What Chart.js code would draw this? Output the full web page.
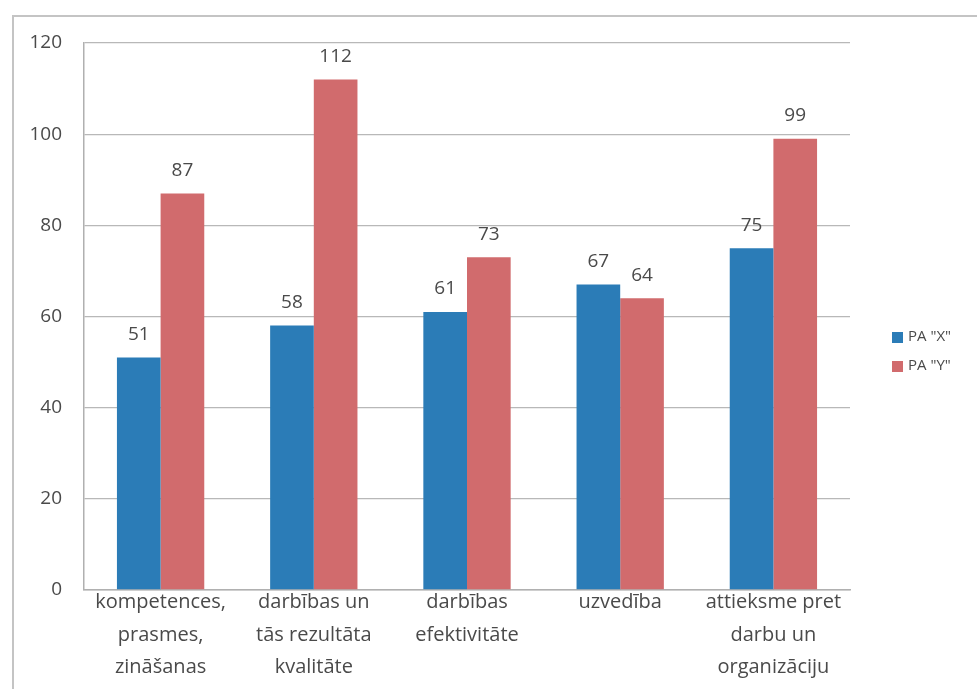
<!DOCTYPE html>
<html>
<head>
<meta charset="utf-8">
<script src="https://cdn.jsdelivr.net/npm/chart.js@4.4.1/dist/chart.umd.min.js"></script>
<style>
  html, body { margin: 0; padding: 0; background: #ffffff; overflow: hidden; }
  #wrap { position: absolute; left: 0; top: 0; width: 977px; height: 689px; }
  #frame { position: absolute; left: 12px; top: 15px; width: 1000px; height: 700px;
           border-left: 2px solid #c4c4c4; border-top: 2px solid #c4c4c4; }
  canvas { position: absolute; left: 0; top: 0; }
</style>
</head>
<body>
<div id="wrap">
  <div id="frame"></div>
  <canvas id="c" width="977" height="689"></canvas>
</div>
<script>
const categories = [
  ["kompetences,", "prasmes,", "zināšanas"],
  ["darbības un", "tās rezultāta", "kvalitāte"],
  ["darbības", "efektivitāte"],
  ["uzvedība"],
  ["attieksme pret", "darbu un", "organizāciju"]
];
const seriesNames = ['PA "X"', 'PA "Y"'];
const valuesX = [51, 58, 61, 67, 75];
const valuesY = [87, 112, 73, 64, 99];
const yTicks = [0, 20, 40, 60, 80, 100, 120];

const FONT = "'Open Sans', 'DejaVu Sans', sans-serif";
const TEXT = '#4a4a4a';

const valueLabels = {
  id: 'valueLabels',
  afterDatasetsDraw(chart) {
    const ctx = chart.ctx;
    ctx.save();
    ctx.font = '19px ' + FONT;
    ctx.fillStyle = TEXT;
    ctx.textAlign = 'center';
    ctx.textBaseline = 'middle';
    chart.data.datasets.forEach((ds, i) => {
      const meta = chart.getDatasetMeta(i);
      meta.data.forEach((bar, j) => {
        ctx.fillText(String(ds.data[j]), bar.x, bar.y - 23);
      });
    });
    ctx.restore();
  }
};

const customLegend = {
  id: 'customLegend',
  afterDraw(chart) {
    const ctx = chart.ctx;
    ctx.save();
    ctx.font = '15px ' + FONT;
    ctx.textBaseline = 'middle';
    ctx.textAlign = 'left';
    const x0 = 892, y0 = 337, gap = 29;
    chart.data.datasets.forEach((ds, i) => {
      const y = y0 + i * gap;
      ctx.fillStyle = ds.backgroundColor;
      ctx.fillRect(x0, y - 5, 11, 11);
      ctx.fillStyle = TEXT;
      ctx.fillText(ds.label, x0 + 16, y);
    });
    ctx.restore();
  }
};

new Chart(document.getElementById('c'), {
  type: 'bar',
  data: {
    labels: categories,
    datasets: [
      { label: seriesNames[0], data: valuesX, backgroundColor: '#2b7cb7' },
      { label: seriesNames[1], data: valuesY, backgroundColor: '#d16b6d' }
    ]
  },
  options: {
    responsive: false,
    animation: false,
    events: [],
    layout: { padding: { left: 0, top: 43, right: 127, bottom: 0 } },
    plugins: { legend: { display: false }, tooltip: { enabled: false } },
    datasets: { bar: { categoryPercentage: 0.57, barPercentage: 1.0 } },
    scales: {
      x: {
        grid: { display: false, drawTicks: false },
        border: { display: true, color: '#b0b0b0', width: 1.5 },
        ticks: { font: { family: FONT, size: 20, lineHeight: 1.63 }, color: TEXT, padding: -4, maxRotation: 0, autoSkip: false },
        afterFit(scale) { scale.height = 99; }
      },
      y: {
        min: 0, max: 120,
        afterBuildTicks(scale) { scale.ticks = yTicks.map(v => ({ value: v })); },
        grid: { color: '#b8b8b8', lineWidth: 1.3, drawTicks: false },
        border: { display: true, color: '#b0b0b0', width: 1.5 },
        ticks: { font: { family: FONT, size: 19 }, color: TEXT, padding: 22 },
        afterFit(scale) { scale.width = 84; }
      }
    }
  },
  plugins: [valueLabels, customLegend]
});
</script>
</body>
</html>
